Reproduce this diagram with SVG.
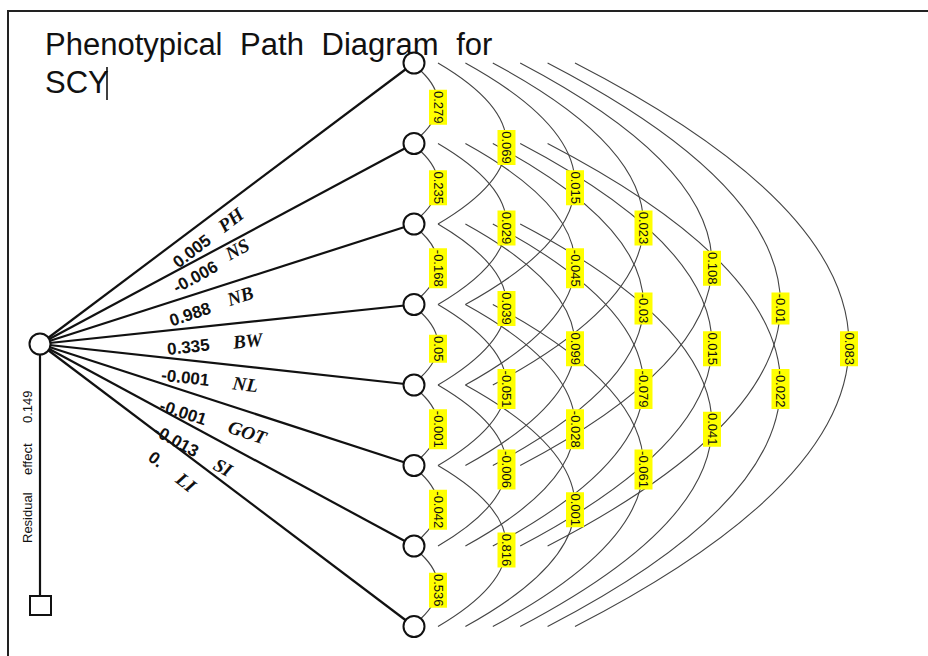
<svg xmlns="http://www.w3.org/2000/svg" width="928" height="656" viewBox="0 0 928 656">
<style>
.frame{fill:none;stroke:#222;stroke-width:2}
.fan{stroke:#111;stroke-width:2.2;fill:none}
.arc{fill:none;stroke:#444;stroke-width:1.1}
.node circle,.node rect{fill:#fff;stroke:#111;stroke-width:2}
.lb rect{fill:#ffff00}
.lb text{font-family:"Liberation Sans",Arial,sans-serif;font-size:13px;fill:#111;text-anchor:middle}
.val{font-family:"Liberation Sans",Arial,sans-serif;font-size:17px;font-weight:bold;fill:#111;text-anchor:middle}
.trait{font-family:"Liberation Serif","Times New Roman",serif;font-style:italic;font-weight:bold;font-size:19px;fill:#111;text-anchor:middle}
.title{font-family:"Liberation Sans",Arial,sans-serif;font-size:31px;fill:#111}
.resid{font-family:"Liberation Sans",Arial,sans-serif;font-size:13px;fill:#111}
</style>
<rect width="928" height="656" fill="#fff"/>
<path class="frame" d="M8,656 V11 H928"/>
<g id="title">
<text class="title" x="45" y="55" word-spacing="9">Phenotypical Path Diagram for</text>
<text class="title" x="45" y="93">SCY</text>
<line x1="107" y1="67" x2="107" y2="100" stroke="#000" stroke-width="1.5"/>
</g>
<g id="connectors">
<g id="fan">
<path class="fan" d="M40,344 L414,63"/>
<path class="fan" d="M40,344 L414,143.5"/>
<path class="fan" d="M40,344 L414,224"/>
<path class="fan" d="M40,344 L414,304.5"/>
<path class="fan" d="M40,344 L414,385"/>
<path class="fan" d="M40,344 L414,465.5"/>
<path class="fan" d="M40,344 L414,546"/>
<path class="fan" d="M40,344 L414,626.5"/>
<path class="fan" d="M40,344 L40,596" stroke-width="1.5"/>
</g>
<g id="arcs">
<path class="arc" d="M421,71 Q455,103.25 421,135.5"/>
<path class="arc" d="M421,151.5 Q455,183.75 421,216"/>
<path class="arc" d="M421,232 Q455,264.25 421,296.5"/>
<path class="arc" d="M421,312.5 Q455,344.75 421,377"/>
<path class="arc" d="M421,393 Q455,425.25 421,457.5"/>
<path class="arc" d="M421,473.5 Q455,505.75 421,538"/>
<path class="arc" d="M421,554 Q455,586.25 421,618.5"/>
<path class="arc" d="M438,63 Q575,143.5 438,224"/>
<path class="arc" d="M438,143.5 Q575,224 438,304.5"/>
<path class="arc" d="M438,224 Q575,304.5 438,385"/>
<path class="arc" d="M438,304.5 Q575,385 438,465.5"/>
<path class="arc" d="M438,385 Q575,465.5 438,546"/>
<path class="arc" d="M438,465.5 Q575,546 438,626.5"/>
<path class="arc" d="M465.4,63 Q684.6,183.75 465.4,304.5"/>
<path class="arc" d="M465.4,143.5 Q684.6,264.25 465.4,385"/>
<path class="arc" d="M465.4,224 Q684.6,344.75 465.4,465.5"/>
<path class="arc" d="M465.4,304.5 Q684.6,425.25 465.4,546"/>
<path class="arc" d="M465.4,385 Q684.6,505.75 465.4,626.5"/>
<path class="arc" d="M492.8,63 Q794.2,224 492.8,385"/>
<path class="arc" d="M492.8,143.5 Q794.2,304.5 492.8,465.5"/>
<path class="arc" d="M492.8,224 Q794.2,385 492.8,546"/>
<path class="arc" d="M492.8,304.5 Q794.2,465.5 492.8,626.5"/>
<path class="arc" d="M520.2,63 Q903.8,264.25 520.2,465.5"/>
<path class="arc" d="M520.2,143.5 Q903.8,344.75 520.2,546"/>
<path class="arc" d="M520.2,224 Q903.8,425.25 520.2,626.5"/>
<path class="arc" d="M547.6,63 Q1013.4,304.5 547.6,546"/>
<path class="arc" d="M547.6,143.5 Q1013.4,385 547.6,626.5"/>
<path class="arc" d="M575,63 Q1123,344.75 575,626.5"/>
</g>
</g>
<g id="path-labels">
<text class="val" transform="translate(191.7,251) rotate(-37.8)" dy="6">0.005</text>
<text class="val" transform="translate(195.3,276.7) rotate(-28.9)" dy="6">-0.006</text>
<text class="val" transform="translate(190,314) rotate(-18.4)" dy="6">0.988</text>
<text class="val" transform="translate(188.3,346.7) rotate(-6.3)" dy="6">0.335</text>
<text class="val" transform="translate(185.3,377.3) rotate(6.4)" dy="6">-0.001</text>
<text class="val" transform="translate(183.3,412.3) rotate(18.4)" dy="6">-0.001</text>
<text class="val" transform="translate(176.3,440.7) rotate(29)" dy="6">-0.013</text>
<text class="val" transform="translate(156.3,459) rotate(37.9)" dy="6">0.</text>
<text class="trait" transform="translate(230.7,220) rotate(-37.8)" dy="6.5">PH</text>
<text class="trait" transform="translate(237.3,249.3) rotate(-28.9)" dy="6.5">NS</text>
<text class="trait" transform="translate(240.3,296) rotate(-18.4)" dy="6.5">NB</text>
<text class="trait" transform="translate(247.7,340.7) rotate(-6.3)" dy="6.5">BW</text>
<text class="trait" transform="translate(245.3,384.3) rotate(6.4)" dy="6.5">NL</text>
<text class="trait" transform="translate(247.3,432.3) rotate(18.4)" dy="6.5">GOT</text>
<text class="trait" transform="translate(223,467.3) rotate(29)" dy="6.5">SI</text>
<text class="trait" transform="translate(186,482.3) rotate(37.9)" dy="6.5">LI</text>
<text class="resid" transform="translate(32,543) rotate(-90)"><tspan x="0">Residual</tspan><tspan x="68">effect</tspan><tspan x="120">0.149</tspan></text>
</g>
<g id="corr-labels">
<g class="lb"><rect x="429" y="89.75" width="18" height="35"/><text transform="translate(438,107.25) rotate(90)" dy="4.5">0.279</text></g>
<g class="lb"><rect x="429" y="170.25" width="18" height="35"/><text transform="translate(438,187.75) rotate(90)" dy="4.5">0.235</text></g>
<g class="lb"><rect x="429" y="248.25" width="18" height="40"/><text transform="translate(438,268.25) rotate(90)" dy="4.5">-0.168</text></g>
<g class="lb"><rect x="429" y="334.75" width="18" height="28"/><text transform="translate(438,348.75) rotate(90)" dy="4.5">0.05</text></g>
<g class="lb"><rect x="429" y="409.25" width="18" height="40"/><text transform="translate(438,429.25) rotate(90)" dy="4.5">-0.001</text></g>
<g class="lb"><rect x="429" y="489.75" width="18" height="40"/><text transform="translate(438,509.75) rotate(90)" dy="4.5">-0.042</text></g>
<g class="lb"><rect x="429" y="572.75" width="18" height="35"/><text transform="translate(438,590.25) rotate(90)" dy="4.5">0.536</text></g>
<g class="lb"><rect x="497.5" y="130" width="18" height="35"/><text transform="translate(506.5,147.5) rotate(90)" dy="4.5">0.069</text></g>
<g class="lb"><rect x="497.5" y="210.5" width="18" height="35"/><text transform="translate(506.5,228) rotate(90)" dy="4.5">0.029</text></g>
<g class="lb"><rect x="497.5" y="291" width="18" height="35"/><text transform="translate(506.5,308.5) rotate(90)" dy="4.5">0.039</text></g>
<g class="lb"><rect x="497.5" y="369" width="18" height="40"/><text transform="translate(506.5,389) rotate(90)" dy="4.5">-0.051</text></g>
<g class="lb"><rect x="497.5" y="449.5" width="18" height="40"/><text transform="translate(506.5,469.5) rotate(90)" dy="4.5">-0.006</text></g>
<g class="lb"><rect x="497.5" y="532.5" width="18" height="35"/><text transform="translate(506.5,550) rotate(90)" dy="4.5">0.816</text></g>
<g class="lb"><rect x="566" y="170.25" width="18" height="35"/><text transform="translate(575,187.75) rotate(90)" dy="4.5">0.015</text></g>
<g class="lb"><rect x="566" y="248.25" width="18" height="40"/><text transform="translate(575,268.25) rotate(90)" dy="4.5">-0.045</text></g>
<g class="lb"><rect x="566" y="331.25" width="18" height="35"/><text transform="translate(575,348.75) rotate(90)" dy="4.5">0.099</text></g>
<g class="lb"><rect x="566" y="409.25" width="18" height="40"/><text transform="translate(575,429.25) rotate(90)" dy="4.5">-0.028</text></g>
<g class="lb"><rect x="566" y="492.25" width="18" height="35"/><text transform="translate(575,509.75) rotate(90)" dy="4.5">0.001</text></g>
<g class="lb"><rect x="634.5" y="210.5" width="18" height="35"/><text transform="translate(643.5,228) rotate(90)" dy="4.5">0.023</text></g>
<g class="lb"><rect x="634.5" y="292.5" width="18" height="32"/><text transform="translate(643.5,308.5) rotate(90)" dy="4.5">-0.03</text></g>
<g class="lb"><rect x="634.5" y="369" width="18" height="40"/><text transform="translate(643.5,389) rotate(90)" dy="4.5">-0.079</text></g>
<g class="lb"><rect x="634.5" y="449.5" width="18" height="40"/><text transform="translate(643.5,469.5) rotate(90)" dy="4.5">-0.061</text></g>
<g class="lb"><rect x="703" y="250.75" width="18" height="35"/><text transform="translate(712,268.25) rotate(90)" dy="4.5">0.108</text></g>
<g class="lb"><rect x="703" y="331.25" width="18" height="35"/><text transform="translate(712,348.75) rotate(90)" dy="4.5">0.015</text></g>
<g class="lb"><rect x="703" y="411.75" width="18" height="35"/><text transform="translate(712,429.25) rotate(90)" dy="4.5">0.041</text></g>
<g class="lb"><rect x="771.5" y="292.5" width="18" height="32"/><text transform="translate(780.5,308.5) rotate(90)" dy="4.5">-0.01</text></g>
<g class="lb"><rect x="771.5" y="369" width="18" height="40"/><text transform="translate(780.5,389) rotate(90)" dy="4.5">-0.022</text></g>
<g class="lb"><rect x="840" y="331.25" width="18" height="35"/><text transform="translate(849,348.75) rotate(90)" dy="4.5">0.083</text></g>
</g>
<g id="node-SCY" class="node"><circle cx="40" cy="344" r="10.5"/></g>
<g id="node-residual" class="node"><rect x="30" y="596" width="21" height="19" stroke-width="1.8"/></g>
<g id="node-PH" class="node"><circle cx="414" cy="63" r="10.5"/></g>
<g id="node-NS" class="node"><circle cx="414" cy="143.5" r="10.5"/></g>
<g id="node-NB" class="node"><circle cx="414" cy="224" r="10.5"/></g>
<g id="node-BW" class="node"><circle cx="414" cy="304.5" r="10.5"/></g>
<g id="node-NL" class="node"><circle cx="414" cy="385" r="10.5"/></g>
<g id="node-GOT" class="node"><circle cx="414" cy="465.5" r="10.5"/></g>
<g id="node-SI" class="node"><circle cx="414" cy="546" r="10.5"/></g>
<g id="node-LI" class="node"><circle cx="414" cy="626.5" r="10.5"/></g>
</svg>
